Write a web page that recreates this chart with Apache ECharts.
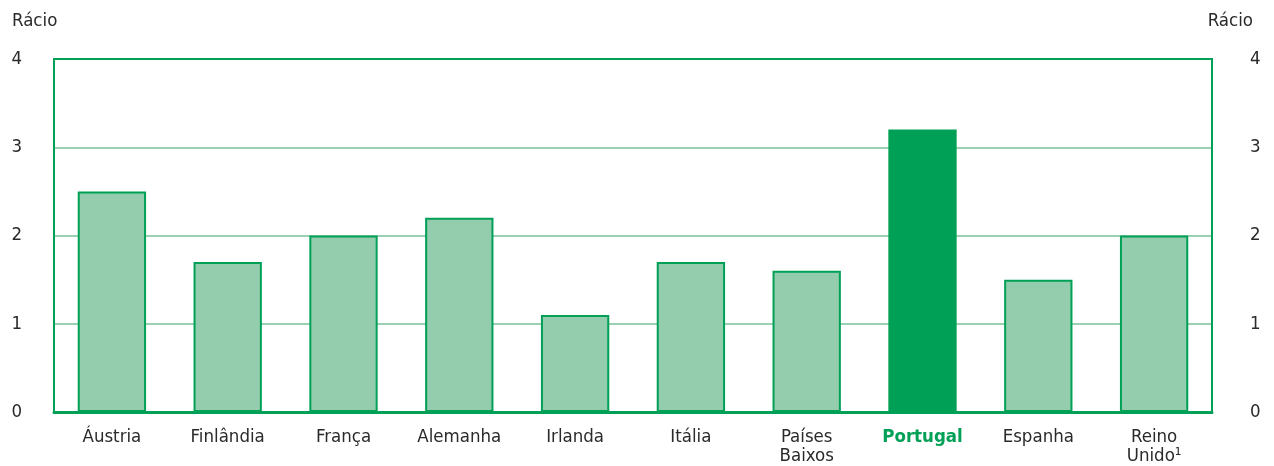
<!DOCTYPE html>
<html><head><meta charset="utf-8">
<script src="https://cdn.jsdelivr.net/npm/echarts@6/dist/echarts.min.js"></script>
<style>html,body{margin:0;padding:0;background:#fff}#c{width:1274px;height:466px}</style>
</head><body><div id="c"></div>
<script>
const categories = ['Áustria','Finlândia','França','Alemanha','Irlanda','Itália','Países\nBaixos','Portugal','Espanha','Reino\nUnido¹'];
const values = [2.5, 1.7, 2.0, 2.2, 1.1, 1.7, 1.6, 3.2, 1.5, 2.0];
const highlight = 'Portugal';
const yTicks = [0, 1, 2, 3, 4];

const GREEN = '#00a057';
const LIGHT = '#93cdae';
const GRIDC = '#99d1b2';
const FONT = '"DejaVu Sans Condensed", "Roboto", sans-serif';
const FS = 18.5;

const chart = echarts.init(document.getElementById('c'));
const yAxisBase = {
  type: 'value', min: yTicks[0], max: yTicks[yTicks.length-1], interval: 1,
  axisLine: {show: true, lineStyle: {color: GREEN, width: 2}},
  axisTick: {show: false},
  splitLine: {show: false},
  axisLabel: {color: '#2a2a2a', fontSize: FS, fontFamily: FONT}
};
chart.setOption({
  animation: false,
  grid: {left: 54, right: 62, top: 59, bottom: 54, show: true, borderColor: GREEN, borderWidth: 2, containLabel: false},
  title: [
    {text: 'Rácio', left: 7, top: 7, textStyle: {fontSize: FS, fontWeight: 'normal', color: '#2a2a2a', fontFamily: FONT}},
    {text: 'Rácio', right: 16, top: 7, textStyle: {fontSize: FS, fontWeight: 'normal', color: '#2a2a2a', fontFamily: FONT}}
  ],
  xAxis: {
    type: 'category', data: categories,
    axisLine: {show: true, lineStyle: {color: GREEN, width: 3}},
    axisTick: {show: false},
    axisLabel: {
      interval: 0, margin: 16, fontSize: FS, lineHeight: 19, color: '#2a2a2a', fontFamily: FONT,
      formatter: v => v === highlight ? '{h|' + v + '}' : v,
      rich: {h: {fontSize: FS, fontWeight: 'bold', color: GREEN, fontFamily: FONT}}
    }
  },
  yAxis: [
    Object.assign({}, yAxisBase, {position: 'left', axisLabel: Object.assign({}, yAxisBase.axisLabel, {margin: 32}),
      splitLine: {show: true, showMinLine: false, showMaxLine: false, lineStyle: {color: GRIDC, width: 2}}}),
    Object.assign({}, yAxisBase, {position: 'right', axisLabel: Object.assign({}, yAxisBase.axisLabel, {margin: 38})})
  ],
  series: [{
    type: 'bar', barWidth: '59%',
    data: values.map((v, i) => categories[i] === highlight
      ? {value: v, itemStyle: {color: GREEN, borderColor: GREEN, borderWidth: 0}}
      : {value: v, itemStyle: {color: LIGHT, borderColor: GREEN, borderWidth: 2}}),
    z: 3
  }]
});
</script></body></html>
